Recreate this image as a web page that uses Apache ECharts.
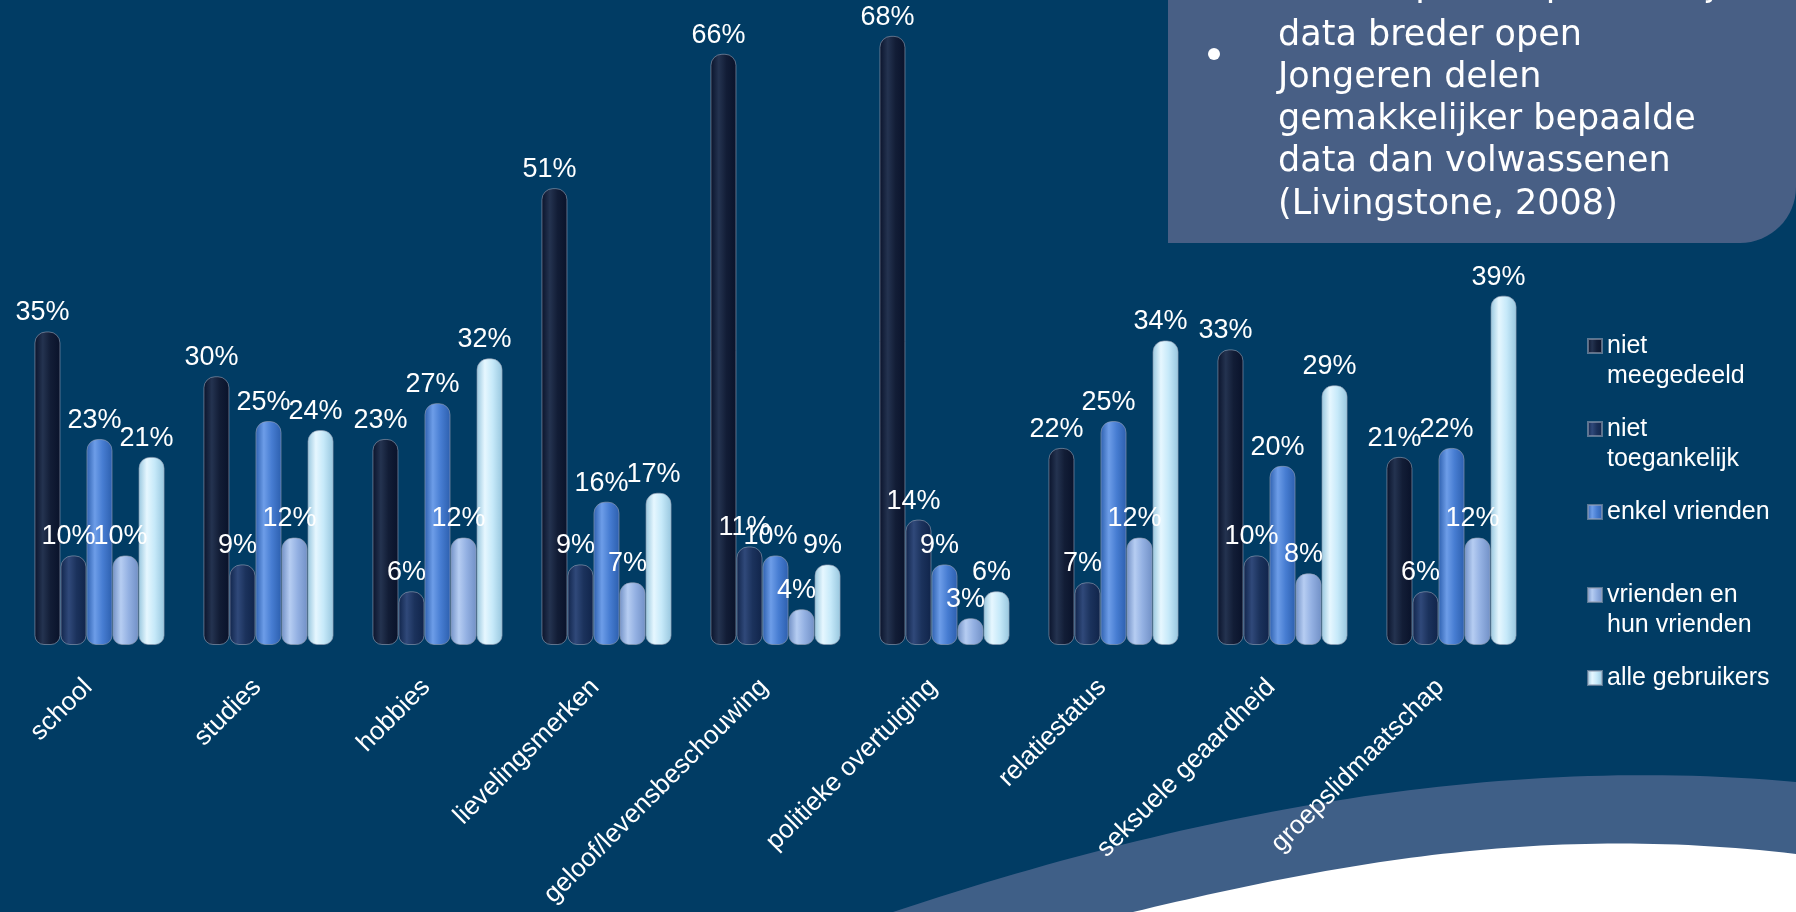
<!DOCTYPE html>
<html>
<head>
<meta charset="utf-8">
<title>Privacy-instellingen</title>
<script src="https://cdn.jsdelivr.net/npm/echarts@6/dist/echarts.min.js"></script>
<style>
html, body { margin: 0; padding: 0; background: #013c64; }
#chart { width: 1796px; height: 912px; }
</style>
</head>
<body>
<div id="chart"></div>
<script>
// data
var categories = ['school', 'studies', 'hobbies', 'lievelingsmerken', 'geloof/levensbeschouwing',
	'politieke overtuiging', 'relatiestatus', 'seksuele geaardheid', 'groepslidmaatschap'];
var nietMeegedeeld = [35, 30, 23, 51, 66, 68, 22, 33, 21];
var nietToegankelijk = [10, 9, 6, 9, 11, 14, 7, 10, 6];
var enkelVrienden = [23, 25, 27, 16, 10, 9, 25, 20, 22];
var vriendenEnHunVrienden = [10, 12, 12, 7, 4, 3, 12, 8, 12];
var alleGebruikers = [21, 24, 32, 17, 9, 6, 34, 29, 39];
var seriesNames = ['niet meegedeeld', 'niet toegankelijk', 'enkel vrienden', 'vrienden en hun vrienden', 'alle gebruikers'];
var legendLabels = ['niet\nmeegedeeld', 'niet\ntoegankelijk', 'enkel vrienden', 'vrienden en\nhun vrienden', 'alle gebruikers'];
var boxTopLine = 'Ouders posten persoonlijke';
var boxLines = ['data breder open', 'Jongeren delen', 'gemakkelijker bepaalde', 'data dan volwassenen', '(Livingstone, 2008)'];

var seriesData = [nietMeegedeeld, nietToegankelijk, enkelVrienden, vriendenEnHunVrienden, alleGebruikers];

// cylinder look: dark edges, light stripe left of the middle
var cylinder = (edge, light, mid) => {
	return new echarts.graphic.LinearGradient(0, 0, 1, 0, [
		{offset: 0, color: edge},
		{offset: 0.32, color: light},
		{offset: 0.62, color: mid},
		{offset: 1, color: edge}
	]);
}
var colors = [
	cylinder('#09122a', '#243350', '#121d36'),
	cylinder('#10244a', '#30497a', '#1b325c'),
	cylinder('#2c5fae', '#6d9de8', '#477dd2'),
	cylinder('#7190c6', '#b6cdf2', '#93b0e2'),
	cylinder('#97c6de', '#e6f7ff', '#c6e9f9')
];

// wave at the bottom right (decoration)
var bezier = (p0, p1, p2, p3, n) => {
	var pts = [];
	for (var k = 0; k <= n; k++) {
		var t = k / n, a = (1 - t) * (1 - t) * (1 - t), b = 3 * (1 - t) * (1 - t) * t, c = 3 * (1 - t) * t * t, d = t * t * t;
		pts.push([a * p0[0] + b * p1[0] + c * p2[0] + d * p3[0], a * p0[1] + b * p1[1] + c * p2[1] + d * p3[1]]);
	}
	return pts;
}
var band = bezier([893, 912], [1200, 810], [1500, 755], [1796, 782], 60).concat([[1796, 912]]);
var white = bezier([1133, 912], [1350, 860], [1550, 825], [1796, 854], 60).concat([[1796, 912]]);

var myChart = echarts.init(document.getElementById('chart'));
var chartOption = {
	backgroundColor: '#013c64',
	animation: false,
	grid: {left: 15, right: 260, top: 0, bottom: 267, containLabel: false, outerBoundsMode: 'none'},
	xAxis: {
		type: 'category',
		data: categories,
		axisLine: {show: false},
		axisTick: {show: false},
		axisLabel: {
			interval: 0, rotate: 45, margin: 27, padding: [0, 16, 0, 0],
			color: '#fff', fontSize: 26, fontFamily: 'Liberation Sans'
		}
	},
	yAxis: {type: 'value', min: 0, max: 72, show: false},
	legend: {
		orient: 'vertical', left: 1587, top: 301, padding: 0, itemGap: -7,
		itemWidth: 14, itemHeight: 14, icon: 'rect', selectedMode: false,
		data: seriesNames,
		formatter: function (name) {
			var t = legendLabels[seriesNames.indexOf(name)];
			return '\u00a0\n' + t + (t.indexOf('\n') < 0 ? '\n\u00a0' : '');
		},
		textStyle: {color: '#fff', fontSize: 25, fontFamily: 'Liberation Sans', lineHeight: 30}
	},
	graphic: [
		{type: 'polygon', z: -10, shape: {points: band}, style: {fill: '#3f5f87'}},
		{type: 'polygon', z: -9, shape: {points: white}, style: {fill: '#ffffff'}},
		{type: 'rect', z: 10, shape: {x: 1168, y: -20, width: 628, height: 263, r: [0, 0, 56, 0]}, style: {fill: '#485f85'}},
		{type: 'circle', z: 11, shape: {cx: 1214, cy: 54, r: 6}, style: {fill: '#fff'}},
		{
			type: 'text', z: 11, x: 1278, y: -34,
			style: {text: boxTopLine, fill: '#fff', fontSize: 35, fontFamily: 'DejaVu Sans', lineHeight: 42, verticalAlign: 'top'}
		},
		{
			type: 'text', z: 11, x: 1278, y: 14.5,
			style: {
				text: boxLines.join('\n'), fill: '#fff', fontSize: 35, fontFamily: 'DejaVu Sans',
				lineHeight: 42.25, verticalAlign: 'top'
			}
		}
	],
	series: seriesData.map(function (d, i) {
		return {
			name: seriesNames[i],
			type: 'bar',
			data: d,
			barGap: '0%',
			barCategoryGap: '23%',
			itemStyle: {color: colors[i], borderRadius: [11, 11, 9, 9], borderColor: 'rgba(150,160,180,0.6)', borderWidth: 1},
			label: {
				show: true, position: 'top', distance: 5, offset: [-5, 0], formatter: '{c}%',
				color: '#fff', fontSize: 27, fontFamily: 'Liberation Sans'
			}
		};
	})
}
myChart.setOption(chartOption);
</script>
</body>
</html>
